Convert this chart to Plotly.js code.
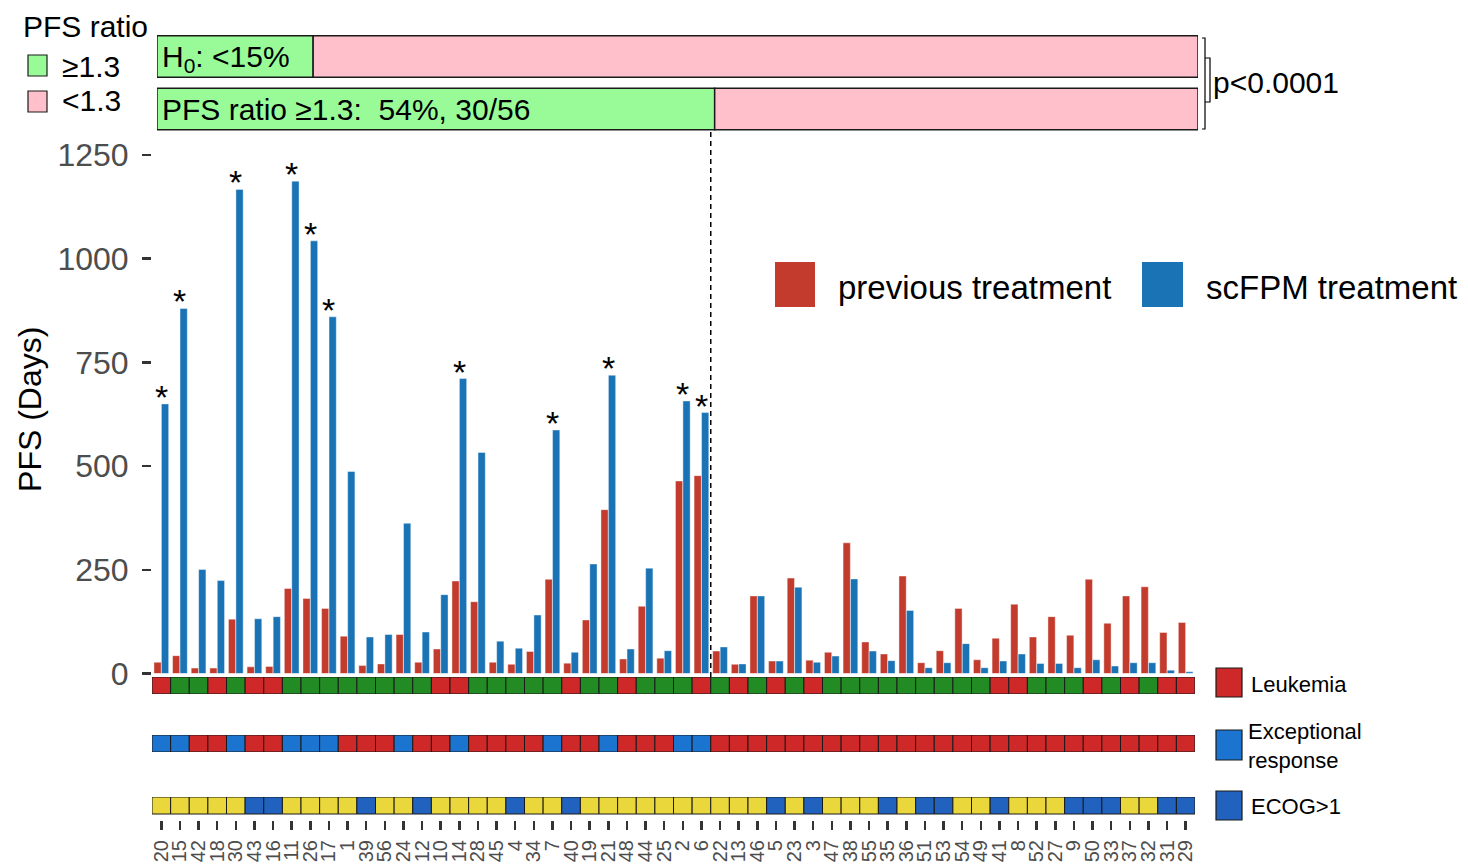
<!DOCTYPE html>
<html>
<head>
<meta charset="utf-8">
<script src="https://cdn.plot.ly/plotly-3.0.1.min.js"></script>
<style>
  html, body { margin: 0; padding: 0; background: #ffffff; }
  #chart { width: 1468px; height: 866px; }
</style>
</head>
<body>
<div id="chart"></div>
<script>
// Patients, ordered as on the x axis
const patients = ['20','15','42','18','30','43','16','11','26','17','1','39','56','24','12','10','14','28','45','4',
                  '34','7','40','19','21','48','44','25','2','6','22','13','46','5','23','3','47','38','55','35',
                  '36','51','53','54','49','41','8','52','27','9','50','33','37','32','31','29'];

// PFS in days on the previous line of treatment
const pfsPrevious = [27, 43, 13, 13, 131, 16, 17, 205, 181, 157, 90, 19, 23, 94, 27, 59, 223, 173, 27, 22,
                     53, 227, 25, 129, 395, 35, 162, 37, 464, 477, 54, 22, 187, 30, 230, 32, 51, 315, 76, 47,
                     235, 26, 55, 157, 33, 85, 167, 88, 137, 92, 227, 121, 187, 209, 99, 123];

// PFS in days on scFPM-guided treatment
const pfsScfpm = [650, 880, 251, 224, 1167, 132, 137, 1187, 1043, 860, 487, 88, 94, 362, 100, 190, 711, 533, 78, 61,
                  141, 587, 51, 264, 719, 59, 254, 55, 657, 629, 64, 23, 187, 30, 208, 27, 42, 228, 54, 31,
                  152, 14, 26, 72, 14, 30, 47, 24, 24, 14, 33, 18, 26, 26, 8, 4];

// Patients flagged with an asterisk
const flagged = ['20','15','30','11','26','17','14','7','21','2','6'];

// Annotation rows (1 = yes)
const leukemia = [1,0,0,1,0,1,1,0,0,0,0,0,0,0,0,1,1,0,0,0,0,0,1,0,0,1,0,0,
                  0,1,0,1,0,1,0,1,0,0,0,0,0,0,0,0,0,1,1,0,0,0,1,0,1,0,1,1];
const exceptionalResponse = [1,1,0,0,1,0,0,1,1,1,0,0,0,1,0,0,1,0,0,0,0,1,0,0,1,0,0,0,
                             1,1,0,0,0,0,0,0,0,0,0,0,0,0,0,0,0,0,0,0,0,0,0,0,0,0,0,0];
const ecogAbove1 = [0,0,0,0,0,1,1,0,0,0,0,1,0,0,1,0,0,0,0,1,0,0,1,0,0,0,0,0,
                    0,0,0,0,0,1,0,1,0,0,0,1,0,1,1,0,0,1,0,0,0,1,1,1,0,0,1,1];

// PFS ratio summary
const ratioThreshold = 1.3;
const h0Share = 0.15;
const yTicks = [0, 250, 500, 750, 1000, 1250];

// ---------------------------------------------------------------
const W = 1468, H = 866;
const fx = v => v / W;
const fy = v => 1 - v / H;

const responders = patients.filter((p, i) => pfsScfpm[i] / pfsPrevious[i] >= ratioThreshold).length;
const total = patients.length;
const observedShare = responders / total;

const FONT = 'Liberation Sans, Arial, Helvetica, sans-serif';
const ones = patients.map(() => 1);

const cPrev = '#C23B2C';
const cScfpm = '#1A73B5';
const cRed = '#CF2828';
const cGreen = '#238B23';
const cBlueExc = '#1B74CF';
const cBlueEcog = '#2262BF';
const cYellow = '#E9D73B';
const cPaleGreen = '#98FB98';
const cPink = '#FFC0CB';
const edge = '#1a1a1a';

// pixel geometry of the panels
const barTopPx = 145, zeroPx = 673.5, tickTopPx = 155;
const yMax = 1250 * (zeroPx - barTopPx) / (zeroPx - tickTopPx);

const traces = [
  { type: 'bar', x: patients, y: pfsPrevious, xaxis: 'x', yaxis: 'y',
    width: 0.39, offset: -0.395, name: 'previous treatment',
    marker: { color: cPrev, line: { color: 'rgba(255,255,255,0.7)', width: 0.6 } }, hoverinfo: 'skip' },
  { type: 'bar', x: patients, y: pfsScfpm, xaxis: 'x', yaxis: 'y',
    width: 0.39, offset: 0.005, name: 'scFPM treatment',
    marker: { color: cScfpm, line: { color: 'rgba(255,255,255,0.7)', width: 0.6 } }, hoverinfo: 'skip' },

  { type: 'bar', x: patients, y: ones, xaxis: 'x', yaxis: 'y2', width: 1, offset: -0.5,
    marker: { color: leukemia.map(v => v ? cRed : cGreen), line: { color: edge, width: 1 } }, hoverinfo: 'skip' },
  { type: 'bar', x: patients, y: ones, xaxis: 'x', yaxis: 'y3', width: 1, offset: -0.5,
    marker: { color: exceptionalResponse.map(v => v ? cBlueExc : cRed), line: { color: edge, width: 1 } }, hoverinfo: 'skip' },
  { type: 'bar', x: patients, y: ones, xaxis: 'x', yaxis: 'y4', width: 1, offset: -0.5,
    marker: { color: ecogAbove1.map(v => v ? cBlueEcog : cYellow), line: { color: edge, width: 1 } }, hoverinfo: 'skip' },

  // proportion bars: row 1 = H0, row 0 = observed
  { type: 'bar', orientation: 'h', y: [1, 0], x: [h0Share, observedShare], base: [0, 0],
    xaxis: 'x2', yaxis: 'y5', width: 0.79,
    marker: { color: cPaleGreen, line: { color: edge, width: 1.5 } }, hoverinfo: 'skip' },
  { type: 'bar', orientation: 'h', y: [1, 0], x: [1 - h0Share, 1 - observedShare], base: [h0Share, observedShare],
    xaxis: 'x2', yaxis: 'y5', width: 0.79,
    marker: { color: cPink, line: { color: edge, width: 1.5 } }, hoverinfo: 'skip' }
];

const hidden = { showgrid: false, zeroline: false, showline: false, showticklabels: false, ticks: '', automargin: false, fixedrange: true };

const annotations = [];
// asterisks above flagged bars
flagged.forEach(id => {
  const i = patients.indexOf(id);
  annotations.push({ xref: 'x', yref: 'y', x: i, y: pfsScfpm[i], text: '*', showarrow: false,
    yanchor: 'bottom', yshift: -14, font: { family: FONT, size: 34, color: '#000' } });
});

function label(text, x, y, size, extra) {
  return Object.assign({ xref: 'paper', yref: 'paper', x: fx(x), y: fy(y), text: text, showarrow: false,
    xanchor: 'left', yanchor: 'middle', align: 'left', font: { family: FONT, size: size, color: '#000' } }, extra || {});
}

annotations.push(
  label('PFS ratio', 21, 27, 30),
  label('\u22651.3', 60, 66, 30),
  label('&lt;1.3', 60, 100, 30),
  label('H<sub>0</sub>: &lt;' + Math.round(h0Share * 100) + '%', 160, 58, 30),
  label('PFS ratio \u2265' + ratioThreshold + ':\u00A0 ' + Math.round(observedShare * 100) + '%, ' + responders + '/' + total, 160, 110, 30),
  label('p&lt;0.0001', 1211, 82, 30),
  label('previous treatment', 836, 287, 33),
  label('scFPM treatment', 1204, 287, 33),
  label('Leukemia', 1249, 684, 22),
  label('Exceptional<br>response', 1246, 746, 22),
  label('ECOG&gt;1', 1249, 806, 22)
);

function box(x0, y0, x1, y1, color, lw) {
  return { type: 'rect', xref: 'paper', yref: 'paper', x0: fx(x0), x1: fx(x1), y0: fy(y1), y1: fy(y0),
    fillcolor: color, line: { color: edge, width: lw === undefined ? 1.2 : lw } };
}

const shapes = [
  // split between ratio >= 1.3 and < 1.3
  { type: 'line', xref: 'x', yref: 'paper', x0: responders - 0.5, x1: responders - 0.5,
    y0: fy(677), y1: fy(130), line: { color: '#000', width: 1.5, dash: '5px,4px' } },
  // legend swatches
  box(28, 55, 47, 76, cPaleGreen),
  box(28, 91, 47, 112, cPink),
  box(775, 262, 815, 307, cPrev, 0),
  box(1142, 262, 1183, 307, cScfpm, 0),
  box(1216, 668, 1242, 697, cRed),
  box(1216, 730, 1242, 760, cBlueExc),
  box(1216, 791, 1242, 820, cBlueEcog),
  // significance bracket
  { type: 'path', xref: 'paper', yref: 'paper',
    path: 'M ' + fx(1202) + ',' + fy(38) + ' L ' + fx(1205) + ',' + fy(38) + ' L ' + fx(1205) + ',' + fy(129) + ' L ' + fx(1202) + ',' + fy(129),
    line: { color: '#000', width: 1.2 } },
  { type: 'path', xref: 'paper', yref: 'paper',
    path: 'M ' + fx(1205) + ',' + fy(58) + ' L ' + fx(1210) + ',' + fy(58) + ' L ' + fx(1210) + ',' + fy(102) + ' L ' + fx(1205) + ',' + fy(102),
    line: { color: '#000', width: 1.2 } }
];

const layout = {
  width: W, height: H, autosize: false,
  margin: { l: 0, r: 0, t: 0, b: 0, pad: 0 },
  paper_bgcolor: '#ffffff', plot_bgcolor: 'rgba(0,0,0,0)',
  showlegend: false, barmode: 'overlay',
  font: { family: FONT },
  xaxis: {
    type: 'category', domain: [fx(152), fx(1195)], range: [-0.5, total - 0.5], anchor: 'y4',
    showgrid: false, zeroline: false, showline: false, automargin: false, fixedrange: true,
    tickmode: 'array', tickvals: patients, ticktext: patients,
    ticks: 'outside', ticklen: 9, tickwidth: 2.5, tickcolor: '#333333',
    tickangle: -90, tickfont: { family: FONT, size: 20, color: '#4d4d4d' }, ticklabelstandoff: 2
  },
  yaxis: {
    domain: [fy(zeroPx), fy(barTopPx)], range: [0, yMax], anchor: 'x',
    showgrid: false, zeroline: false, showline: false, automargin: false, fixedrange: true,
    tickvals: yTicks, ticktext: yTicks.map(String),
    ticks: 'outside', ticklen: 9, tickwidth: 2.5, tickcolor: '#333333',
    tickfont: { family: FONT, size: 32, color: '#4d4d4d' }, ticklabelstandoff: 7,
    title: { text: 'PFS (Days)', font: { family: FONT, size: 32, color: '#000' }, standoff: 6 }
  },
  yaxis2: Object.assign({ domain: [fy(694), fy(677)], range: [0, 1], anchor: 'x' }, hidden),
  yaxis3: Object.assign({ domain: [fy(752), fy(735)], range: [0, 1], anchor: 'x' }, hidden),
  yaxis4: Object.assign({ domain: [fy(820), fy(797)], range: [-6 / 17, 1], anchor: 'x' }, hidden),
  xaxis2: Object.assign({ domain: [fx(157), fx(1198)], range: [0, 1], anchor: 'y5' }, hidden),
  yaxis5: Object.assign({ domain: [fy(135.25), fy(30.25)], range: [-0.5, 1.5], anchor: 'x2' }, hidden),
  annotations: annotations,
  shapes: shapes
};

Plotly.newPlot('chart', traces, layout, { displayModeBar: false, staticPlot: true });
</script>
</body>
</html>
